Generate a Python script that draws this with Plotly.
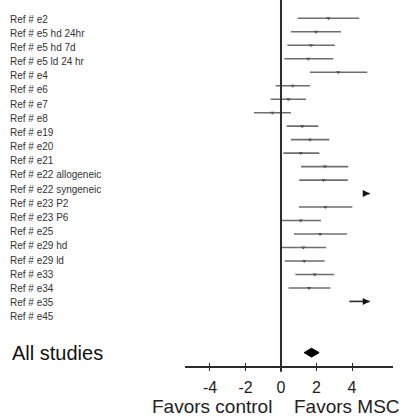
import plotly.graph_objects as go

# Study rows (top to bottom) and their effect sizes with 95% CI
studies = [
    "Ref # e2", "Ref # e5 hd 24hr", "Ref # e5 hd 7d", "Ref # e5 ld 24 hr",
    "Ref # e4", "Ref # e6", "Ref # e7", "Ref # e8", "Ref # e19", "Ref # e20",
    "Ref # e21", "Ref # e22 allogeneic", "Ref # e22 syngeneic", "Ref # e23 P2",
    "Ref # e23 P6", "Ref # e25", "Ref # e29 hd", "Ref # e29 ld", "Ref # e33",
    "Ref # e34", "Ref # e35", "Ref # e45",
]
estimate = [2.67, 1.97, 1.69, 1.54, 3.23, 0.66, 0.41, -0.49, 1.20, 1.63,
            1.11, 2.48, 2.40, 6.40, 2.50, 1.11, 2.20, 1.26, 1.31, 1.90,
            1.58, 6.00]
ci_low = [0.94, 0.56, 0.36, 0.19, 1.63, -0.30, -0.58, -1.52, 0.32, 0.56,
          0.13, 1.13, 1.03, 4.62, 1.01, 0.02, 0.73, 0.02, 0.21, 0.81,
          0.43, 3.85]
ci_high = [4.41, 3.38, 3.04, 2.95, 4.86, 1.63, 1.41, 0.56, 2.10, 2.72,
           2.16, 3.79, 3.76, 8.20, 4.02, 2.25, 3.72, 2.54, 2.46, 3.00,
           2.78, 8.10]

# Pooled estimate
summary_label = "All studies"
summary_est = 1.72
summary_low = 1.30
summary_high = 2.15

x_ticks = [-4, -2, 0, 2, 4]
x_tick_text = ["-4", "-2", "0", "2", "4"]
CLIP = 5.0  # intervals beyond this are drawn with an arrow

n = len(studies)
rows = list(range(1, n + 1))
SUMMARY_ROW = n + 3.8
HALF_H = 0.33

FONT = "Liberation Sans, Arial, Helvetica, sans-serif"
LINE_GREY = "#6e6e6e"
DARK = "#2b2b2b"

fig = go.Figure()

# CI whiskers inside the displayed range, arrows for truncated ones
cx, cy = [], []
ax_, ay_ = [], []
px, py = [], []
tips_x, tips_y = [], []
for r, lo, est, hi in zip(rows, ci_low, estimate, ci_high):
    if hi > CLIP:
        ax_ += [lo, CLIP, None]
        ay_ += [r, r, None]
        tips_x.append(CLIP)
        tips_y.append(r)
    else:
        cx += [lo, hi, None]
        cy += [r, r, None]
    if est <= CLIP:
        px.append(est)
        py.append(r)

fig.add_trace(go.Scatter(x=cx, y=cy, mode="lines",
                         line=dict(color=LINE_GREY, width=1.6),
                         hoverinfo="skip", showlegend=False))
fig.add_trace(go.Scatter(x=px, y=py, mode="markers",
                         marker=dict(symbol="triangle-down", size=4,
                                     color="#555555"),
                         hoverinfo="skip", showlegend=False))
fig.add_trace(go.Scatter(x=ax_, y=ay_, mode="lines",
                         line=dict(color=DARK, width=1.6),
                         hoverinfo="skip", showlegend=False))
fig.add_trace(go.Scatter(x=tips_x, y=tips_y, mode="markers",
                         marker=dict(symbol="arrow-right", size=7,
                                     color="#111111"),
                         hoverinfo="skip", showlegend=False))

# Pooled diamond
fig.add_trace(go.Scatter(
    x=[summary_low, summary_est, summary_high, summary_est, summary_low],
    y=[SUMMARY_ROW, SUMMARY_ROW - HALF_H, SUMMARY_ROW,
       SUMMARY_ROW + HALF_H, SUMMARY_ROW],
    mode="lines", fill="toself", fillcolor="black",
    line=dict(color="black", width=1),
    hoverinfo="skip", showlegend=False))

# Carrier trace for the study-label axis
fig.add_trace(go.Scatter(x=[0] * n, y=rows, xaxis="x2", yaxis="y2",
                         mode="markers", marker=dict(opacity=0),
                         hoverinfo="skip", showlegend=False))

x_range = [-5.408, 6.31]
x_domain = [185 / 404, 393 / 404]

fig.update_layout(
    width=404, height=420,
    margin=dict(l=0, r=0, t=0, b=54),
    paper_bgcolor="white", plot_bgcolor="white",
    font=dict(family=FONT, color="#222222"),
    xaxis=dict(domain=x_domain, range=x_range, anchor="y",
               tickvals=x_ticks, ticktext=x_tick_text,
               ticks="outside", ticklen=3, tickwidth=1.2,
               tickcolor=DARK, showline=True, linecolor=DARK, linewidth=2,
               showgrid=False, zeroline=False,
               tickfont=dict(size=16, color="#222222", family=FONT),
               ticklabelstandoff=3),
    xaxis2=dict(overlaying="x", range=x_range, anchor="y",
                tickvals=x_ticks, ticks="inside", ticklen=3, tickwidth=1.2,
                tickcolor=DARK, showticklabels=False, showline=False,
                showgrid=False, zeroline=False),
    yaxis=dict(domain=[0, 1], range=[26.79, -0.358], anchor="free",
               position=8 / 404, tickvals=[SUMMARY_ROW],
               ticktext=[summary_label], ticks="", ticklabelposition="inside",
               tickfont=dict(size=20, color="#111111", family=FONT),
               showline=False, showgrid=False, zeroline=False),
    yaxis2=dict(overlaying="y", range=[25.47, -0.34], anchor="free",
                position=6 / 404, tickvals=rows, ticktext=studies,
                ticks="", ticklabelposition="inside",
                tickfont=dict(size=10, color="#333333", family=FONT),
                showline=False, showgrid=False, zeroline=False),
    shapes=[dict(type="line", xref="x", yref="paper", x0=0, x1=0,
                 y0=-0.0156, y1=1, line=dict(color=DARK, width=2))],
    annotations=[
        dict(text="Favors control", xref="x", x=0, xanchor="right",
             xshift=-7, yref="paper", y=-0.112, yanchor="middle",
             showarrow=False, font=dict(size=19, color="#222222")),
        dict(text="Favors MSC", xref="x", x=0, xanchor="left",
             xshift=11, yref="paper", y=-0.112, yanchor="middle",
             showarrow=False, font=dict(size=19, color="#222222")),
    ],
)

fig.write_html("out.html")
